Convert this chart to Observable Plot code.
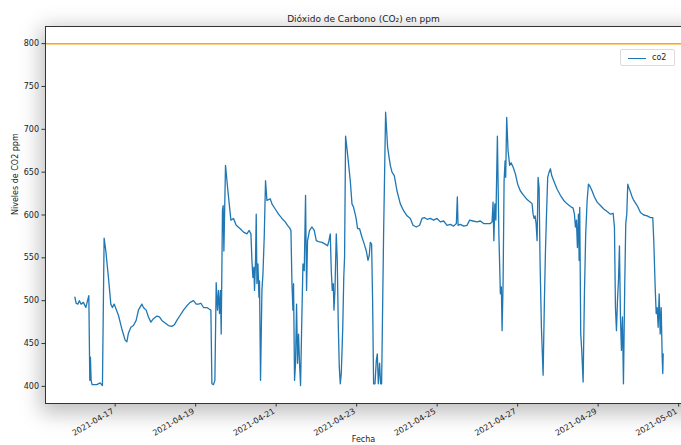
<!DOCTYPE html>
<html>
<head>
<meta charset="utf-8">
<script src="https://cdn.jsdelivr.net/npm/d3@7"></script>
<script src="https://cdn.jsdelivr.net/npm/@observablehq/plot@0.6"></script>
<style>
  html, body { margin: 0; padding: 0; background: #ffffff; }
  #wrap { position: relative; width: 681px; height: 445px; overflow: hidden; font-family: "DejaVu Sans", sans-serif; }
  #shadow { position: absolute; left: 45px; top: 26px; width: 660px; height: 377px; background: #fff; box-shadow: 0 6px 20px 4px rgba(0,0,0,0.26); }
  #chart { position: absolute; left: 0; top: 0; }
  #legend { position: absolute; left: 620px; top: 49px; width: 55px; height: 17px; box-sizing: border-box; border: 1px solid #dcdcdc; border-radius: 2px; background: rgba(255,255,255,0.9); font-size: 8px; color: #222; }
  #legend .sw { position: absolute; left: 7px; top: 7.5px; width: 18px; height: 0; border-top: 1.4px solid #1f77b4; }
  #legend .lb { position: absolute; left: 31px; top: 3px; }
</style>
</head>
<body>
<div id="wrap">
  <div id="shadow"></div>
  <div id="chart"></div>
  <div id="legend"><span class="sw"></span><span class="lb">co2</span></div>
</div>
<script>
const titleText = "Dióxido de Carbono (CO₂) en ppm";
const yLabel = "Niveles de CO2 ppm";
const xLabel = "Fecha";
const seriesName = "co2";
const threshold = [800];
const yTicks = [400, 450, 500, 550, 600, 650, 700, 750, 800];
const xTickLabels = ["2021-04-17", "2021-04-19", "2021-04-21", "2021-04-23", "2021-04-25", "2021-04-27", "2021-04-29", "2021-05-01"];
const xDomain = ["2021-04-15T06:28", "2021-05-01T01:42"];
const yDomain = [380, 820];

const times = [
"2021-04-16T00:00","2021-04-16T00:45","2021-04-16T01:44","2021-04-16T02:41","2021-04-16T03:42","2021-04-16T05:04","2021-04-16T06:30","2021-04-16T07:17","2021-04-16T08:18","2021-04-16T08:53",
"2021-04-16T09:15","2021-04-16T09:40","2021-04-16T10:16","2021-04-16T13:04","2021-04-16T15:02","2021-04-16T16:25","2021-04-16T17:25","2021-04-16T18:26","2021-04-16T20:00","2021-04-16T21:25",
"2021-04-16T22:22","2021-04-16T23:23","2021-04-17T00:35","2021-04-17T01:57","2021-04-17T03:59","2021-04-17T05:57","2021-04-17T06:58","2021-04-17T07:55","2021-04-17T09:21","2021-04-17T10:54",
"2021-04-17T12:31","2021-04-17T13:53","2021-04-17T15:55","2021-04-17T16:52","2021-04-17T18:29","2021-04-17T19:51","2021-04-17T21:17","2021-04-17T22:50","2021-04-18T00:52","2021-04-18T02:25",
"2021-04-18T03:51","2021-04-18T05:49","2021-04-18T07:47","2021-04-18T09:49","2021-04-18T11:22","2021-04-18T12:48","2021-04-18T14:46","2021-04-18T16:44","2021-04-18T18:46","2021-04-18T20:44",
"2021-04-18T22:42","2021-04-19T00:19","2021-04-19T01:41","2021-04-19T03:07","2021-04-19T04:40","2021-04-19T06:42","2021-04-19T08:15","2021-04-19T09:05","2021-04-19T09:41","2021-04-19T10:38",
"2021-04-19T11:28","2021-04-19T12:15","2021-04-19T13:01","2021-04-19T13:37","2021-04-19T14:13","2021-04-19T14:49","2021-04-19T15:14","2021-04-19T16:00","2021-04-19T16:25","2021-04-19T16:50",
"2021-04-19T17:48","2021-04-19T19:14","2021-04-19T21:01","2021-04-19T22:34","2021-04-20T00:11","2021-04-20T02:34","2021-04-20T04:32","2021-04-20T06:34","2021-04-20T07:56","2021-04-20T08:57",
"2021-04-20T09:33","2021-04-20T10:09","2021-04-20T10:44","2021-04-20T11:06","2021-04-20T11:42","2021-04-20T12:07","2021-04-20T12:32","2021-04-20T13:08","2021-04-20T13:44","2021-04-20T14:05",
"2021-04-20T14:41","2021-04-20T15:31","2021-04-20T16:07","2021-04-20T16:53","2021-04-20T17:40","2021-04-20T18:30","2021-04-20T20:28","2021-04-20T21:29","2021-04-20T23:27","2021-04-21T01:25",
"2021-04-21T03:27","2021-04-21T05:25","2021-04-21T06:47","2021-04-21T07:59","2021-04-21T08:49","2021-04-21T09:25","2021-04-21T10:01","2021-04-21T10:22","2021-04-21T10:58","2021-04-21T11:34",
"2021-04-21T12:10","2021-04-21T12:46","2021-04-21T13:21","2021-04-21T13:57","2021-04-21T14:33","2021-04-21T15:08","2021-04-21T15:59","2021-04-21T16:45","2021-04-21T17:32","2021-04-21T18:08",
"2021-04-21T18:43","2021-04-21T19:55","2021-04-21T21:21","2021-04-21T22:43","2021-04-21T23:55","2021-04-22T01:17","2021-04-22T03:19","2021-04-22T05:17","2021-04-22T06:40","2021-04-22T07:29",
"2021-04-22T08:16","2021-04-22T08:52","2021-04-22T09:28","2021-04-22T10:04","2021-04-22T10:28","2021-04-22T11:04","2021-04-22T11:51","2021-04-22T12:26","2021-04-22T13:02","2021-04-22T13:38",
"2021-04-22T14:14","2021-04-22T14:50","2021-04-22T15:44","2021-04-22T16:19","2021-04-22T16:48","2021-04-22T17:24","2021-04-22T18:35","2021-04-22T20:12","2021-04-22T21:13","2021-04-22T22:10",
"2021-04-22T23:36","2021-04-23T00:34","2021-04-23T01:45","2021-04-23T03:11","2021-04-23T04:33","2021-04-23T05:45","2021-04-23T06:46","2021-04-23T07:32","2021-04-23T08:08","2021-04-23T08:55",
"2021-04-23T09:31","2021-04-23T10:06","2021-04-23T10:56","2021-04-23T11:43","2021-04-23T12:19","2021-04-23T12:55","2021-04-23T13:41","2021-04-23T14:17","2021-04-23T14:53","2021-04-23T16:04",
"2021-04-23T17:16","2021-04-23T18:28","2021-04-23T20:04","2021-04-23T21:05","2021-04-23T22:27","2021-04-24T00:04","2021-04-24T02:02","2021-04-24T04:00","2021-04-24T06:02","2021-04-24T08:00",
"2021-04-24T09:37","2021-04-24T11:35","2021-04-24T13:33","2021-04-24T14:59","2021-04-24T16:21","2021-04-24T17:58","2021-04-24T19:56","2021-04-24T21:54","2021-04-24T23:56","2021-04-25T01:54",
"2021-04-25T03:52","2021-04-25T05:54","2021-04-25T07:52","2021-04-25T09:50","2021-04-25T11:27","2021-04-25T12:02","2021-04-25T12:28","2021-04-25T13:50","2021-04-25T15:48","2021-04-25T17:50",
"2021-04-25T19:23","2021-04-25T21:25","2021-04-25T23:48","2021-04-26T01:46","2021-04-26T03:44","2021-04-26T05:46","2021-04-26T07:44","2021-04-26T08:45","2021-04-26T09:20","2021-04-26T09:49",
"2021-04-26T10:25","2021-04-26T11:01","2021-04-26T11:55","2021-04-26T12:48","2021-04-26T13:42","2021-04-26T14:18","2021-04-26T14:43","2021-04-26T15:19","2021-04-26T15:55","2021-04-26T16:30",
"2021-04-26T16:52","2021-04-26T17:28","2021-04-26T18:17","2021-04-26T19:15","2021-04-26T20:05","2021-04-26T21:17","2021-04-26T22:39","2021-04-27T00:01","2021-04-27T01:38","2021-04-27T03:36",
"2021-04-27T05:38","2021-04-27T07:36","2021-04-27T08:37","2021-04-27T09:13","2021-04-27T09:49","2021-04-27T10:24","2021-04-27T11:00","2021-04-27T11:36","2021-04-27T12:11","2021-04-27T12:47",
"2021-04-27T13:23","2021-04-27T14:10","2021-04-27T15:11","2021-04-27T15:57","2021-04-27T16:33","2021-04-27T17:09","2021-04-27T17:55","2021-04-27T18:45","2021-04-27T19:32","2021-04-27T20:19",
"2021-04-27T21:30","2021-04-27T23:32","2021-04-28T01:30","2021-04-28T03:28","2021-04-28T05:30","2021-04-28T07:28","2021-04-28T09:05","2021-04-28T09:51","2021-04-28T10:27","2021-04-28T11:03",
"2021-04-28T11:38","2021-04-28T12:14","2021-04-28T12:40","2021-04-28T13:01","2021-04-28T13:37","2021-04-28T14:13","2021-04-28T15:02","2021-04-28T15:49","2021-04-28T16:35","2021-04-28T17:26",
"2021-04-28T18:13","2021-04-28T18:59","2021-04-28T20:25","2021-04-28T21:47","2021-04-28T23:24","2021-04-29T01:22","2021-04-29T03:20","2021-04-29T05:22","2021-04-29T07:20","2021-04-29T08:56",
"2021-04-29T09:43","2021-04-29T10:19","2021-04-29T10:55","2021-04-29T11:31","2021-04-29T12:07","2021-04-29T12:42","2021-04-29T13:18","2021-04-29T13:53","2021-04-29T14:29","2021-04-29T15:05",
"2021-04-29T15:52","2021-04-29T16:28","2021-04-29T17:04","2021-04-29T17:39","2021-04-29T18:29","2021-04-29T19:16","2021-04-29T20:17","2021-04-29T21:14","2021-04-29T23:16","2021-04-30T01:14",
"2021-04-30T03:12","2021-04-30T05:14","2021-04-30T07:12","2021-04-30T08:34","2021-04-30T09:10","2021-04-30T10:00","2021-04-30T10:36","2021-04-30T11:12","2021-04-30T11:47","2021-04-30T12:23",
"2021-04-30T12:59","2021-04-30T13:35","2021-04-30T14:11","2021-04-30T14:32","2021-04-30T14:47"
];

const co2 = [
504,497,496,500,496,498,492,498,506,407,
434,407,402,402,404,401,573,558,527,496,
492,496,490,483,467,454,452,462,469,471,
477,489,496,492,489,481,475,479,482,481,
477,474,471,470,472,477,483,489,494,498,
500,496,496,497,492,492,490,489,403,402,
407,521,489,512,485,512,461,606,611,558,
658,628,594,596,588,584,580,578,582,578,
547,527,539,512,547,601,520,543,504,523,
407,512,531,574,640,617,619,613,607,601,
596,592,588,585,582,520,489,520,407,427,
496,427,461,427,401,461,543,535,623,512,
570,582,586,582,570,569,568,566,564,570,
578,535,512,520,489,512,578,547,473,423,
403,415,470,527,551,692,671,640,613,609,
597,584,584,574,566,558,547,553,568,566,
500,403,403,430,438,403,427,403,403,578,
720,679,658,650,646,628,613,605,599,596,
588,586,588,596,597,595,596,594,596,592,
593,588,589,587,590,621,588,589,587,588,
594,593,592,593,590,590,590,592,615,570,
613,594,692,578,508,516,465,520,640,663,
644,714,675,658,661,656,648,636,628,623,
618,615,613,601,596,599,590,570,644,632,
543,469,413,500,555,597,644,650,654,646,
640,630,623,617,613,610,608,601,586,594,
562,601,547,609,461,442,405,508,578,617,
636,634,628,621,615,611,607,604,601,602,
586,492,465,500,523,564,481,442,481,403,
520,590,601,636,631,627,621,617,611,603,
600,599,597,597,570,516,485,492,469,508,
461,492,434,415,438
];

const parse = d3.utcParse("%Y-%m-%dT%H:%M");
const data = times.map((t, i) => ({date: parse(t), co2: co2[i]}));
const tickDates = xTickLabels.map(s => d3.utcParse("%Y-%m-%d")(s));
const fmt = d3.utcFormat("%Y-%m-%d");

const font = "DejaVu Sans, sans-serif";

const chart = Plot.plot({
  width: 681,
  height: 445,
  marginLeft: 45,
  marginRight: 0,
  marginTop: 26,
  marginBottom: 42,
  style: {background: "transparent", fontFamily: font, color: "#222"},
  x: {type: "utc", domain: xDomain.map(parse)},
  y: {domain: yDomain},
  marks: [
    Plot.ruleY(threshold, {stroke: "#ffa500", strokeWidth: 1.5}),
    Plot.lineY(data, {x: "date", y: "co2", stroke: "#1f77b4", strokeWidth: 1.3}),
    Plot.ruleY([yDomain[0]], {stroke: "#333", strokeWidth: 1}),
    Plot.ruleY([yDomain[1]], {stroke: "#333", strokeWidth: 1}),
    Plot.ruleX([parse(xDomain[0])], {stroke: "#333", strokeWidth: 1}),
    Plot.axisY({ticks: yTicks, tickSize: 3.5, tickPadding: 3, fontSize: 8, label: null, stroke: "#333"}),
    Plot.axisX({ticks: tickDates, tickSize: 3.5, tickFormat: () => "", label: null, stroke: "#333"}),
    Plot.text(tickDates, {x: d => d, text: d => fmt(d), frameAnchor: "bottom", rotate: -30, textAnchor: "end", lineAnchor: "middle", dx: -2, dy: 7, fontSize: 8, fill: "#222"}),
    Plot.text([titleText], {frameAnchor: "top", dy: -11, fontSize: 9, fill: "#222"}),
    Plot.text([yLabel], {frameAnchor: "left", rotate: -90, dx: -30, fontSize: 8, fill: "#222"}),
    Plot.text([xLabel], {frameAnchor: "bottom", dy: 38, fontSize: 8, fill: "#222"})
  ]
});
document.getElementById("chart").appendChild(chart);
</script>
</body>
</html>
